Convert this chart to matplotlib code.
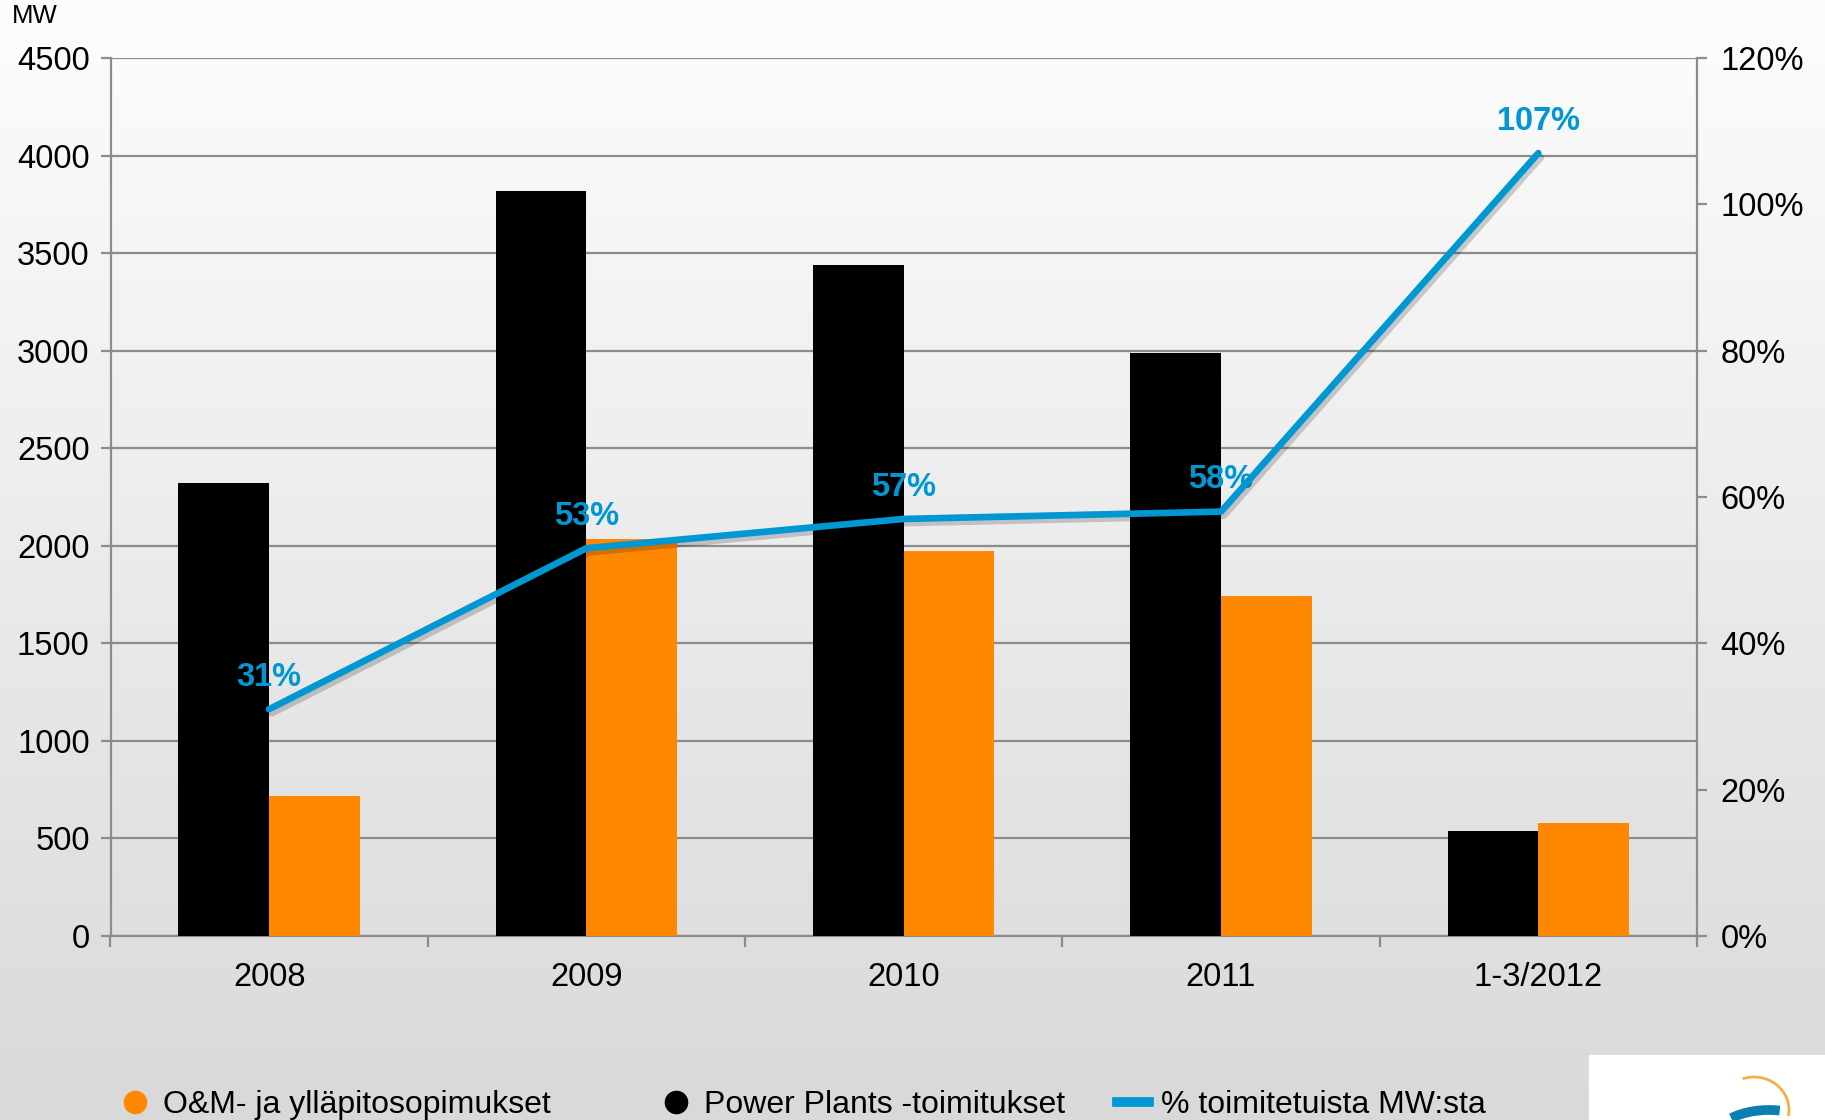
import numpy as np
import matplotlib.pyplot as plt
import matplotlib.patheffects as pe
from matplotlib.lines import Line2D
from matplotlib.patches import Rectangle, Arc
from matplotlib.colors import LinearSegmentedColormap

plt.rcParams['font.family'] = ['Liberation Sans', 'DejaVu Sans']

# data
categories = ['2008', '2009', '2010', '2011', '1-3/2012']
power_plants = [2320, 3820, 3440, 2990, 540]   # MW, black
om_contracts = [720, 2035, 1975, 1745, 580]     # MW, orange
share_pct = [31, 53, 57, 58, 107]               # % toimitetuista MW:sta

ORANGE = '#ff8800'
BLUE = '#0097d3'
GRID = '#8c8c8c'
FS = 23.5

W, H = 1825, 1120
fig = plt.figure(figsize=(W / 100, H / 100), dpi=100)

# background gradient, white at top -> light grey at bottom
bg = fig.add_axes([0, 0, 1, 1], zorder=-10)
grad = np.linspace(0, 1, 256).reshape(-1, 1)
cmap = LinearSegmentedColormap.from_list('bg', ['#fdfdfd', '#d9d9d9'])
bg.imshow(grad, aspect='auto', cmap=cmap, extent=[0, 1, 0, 1], origin='upper')
bg.axis('off')

left, right = 110.5 / W, 1697 / W
bottom, top = 1 - 936 / H, 1 - 58 / H
ax = fig.add_axes([left, bottom, right - left, top - bottom])
ax.set_facecolor('none')

x = np.arange(len(categories))
bw = 0.286
ax.bar(x - bw / 2, power_plants, bw, color='black', zorder=3)
ax.bar(x + bw / 2, om_contracts, bw, color=ORANGE, zorder=3)

ax.set_xlim(-0.5, len(categories) - 0.5)
ax.set_ylim(0, 4500)
ax.set_yticks(np.arange(0, 4501, 500))
ax.yaxis.grid(True, color=GRID, lw=1.6, zorder=1)
ax.set_axisbelow(True)
for s in ['top', 'right']:
    ax.spines[s].set_visible(False)
for s in ['left', 'bottom']:
    ax.spines[s].set_color(GRID)
    ax.spines[s].set_linewidth(1.6)
ax.tick_params(axis='y', direction='out', length=7, width=1.6, color=GRID,
               labelsize=FS, pad=8)
ax.set_xticks(x)
ax.set_xticklabels(categories)
ax.set_xticks(np.arange(-0.5, len(categories), 1), minor=True)
ax.tick_params(axis='x', which='major', length=0, labelsize=FS, pad=19)
ax.tick_params(axis='x', which='minor', direction='out', length=8, width=1.6, color=GRID)

fig.text(12 / W, 1 - 4 / H, 'MW', fontsize=18.5, ha='left', va='top')

ax2 = ax.twinx()
ax2.set_ylim(0, 120)
ax2.set_yticks(np.arange(0, 121, 20))
ax2.set_yticklabels(['{}%'.format(v) for v in range(0, 121, 20)])
for s in ['top', 'left', 'bottom']:
    ax2.spines[s].set_visible(False)
ax2.spines['right'].set_color(GRID)
ax2.spines['right'].set_linewidth(1.6)
ax2.tick_params(axis='y', direction='out', length=7, width=1.6, color=GRID,
                labelsize=FS, pad=10)

ax2.plot(x, share_pct, color=BLUE, lw=4.8, solid_capstyle='round', zorder=5,
         path_effects=[pe.SimpleLineShadow(offset=(2, -3), shadow_color='black', alpha=0.18),
                       pe.Normal()])
for xi, v in zip(x, share_pct):
    ax2.annotate('{}%'.format(v), (xi, v), xytext=(0, 23), textcoords='offset points',
                 ha='center', va='center', color=BLUE, fontsize=23.5, fontweight='bold')

# legend, one box per entry so the columns sit where the reference has them
handles = [
    Line2D([], [], ls='none', marker='o', ms=16, color=ORANGE),
    Line2D([], [], ls='none', marker='o', ms=16, color='black'),
    Line2D([], [], color=BLUE, lw=7),
]
labels = ['O&M- ja ylläpitosopimukset', 'Power Plants -toimitukset', '% toimitetuista MW:sta']
leg_x = [119, 660, 1117]
for h, lab, lxp in zip(handles, labels, leg_x):
    fig.legend([h], [lab], loc='center left', frameon=False, borderpad=0,
               borderaxespad=0, bbox_to_anchor=(lxp / W, 1 - 1105 / H),
               fontsize=23, handlelength=1.0, handletextpad=0.38)

# logo corner box
fig.patches.append(Rectangle((1589 / W, 0), (W - 1589) / W, (H - 1055) / H,
                             transform=fig.transFigure, color='white', zorder=-5))
lx = fig.add_axes([1589 / W, 0, (W - 1589) / W, (H - 1055) / H])
lx.set_xlim(0, 236)
lx.set_ylim(0, 65)
lx.axis('off')
lx.add_patch(Arc((165, 10), 70, 66, theta1=-10, theta2=110, color='#f5b041', lw=2))
lx.add_patch(Arc((180, -20), 110, 60, theta1=70, theta2=150, color='#0a7fb0', lw=7))

fig.savefig('out.png', dpi=100)
